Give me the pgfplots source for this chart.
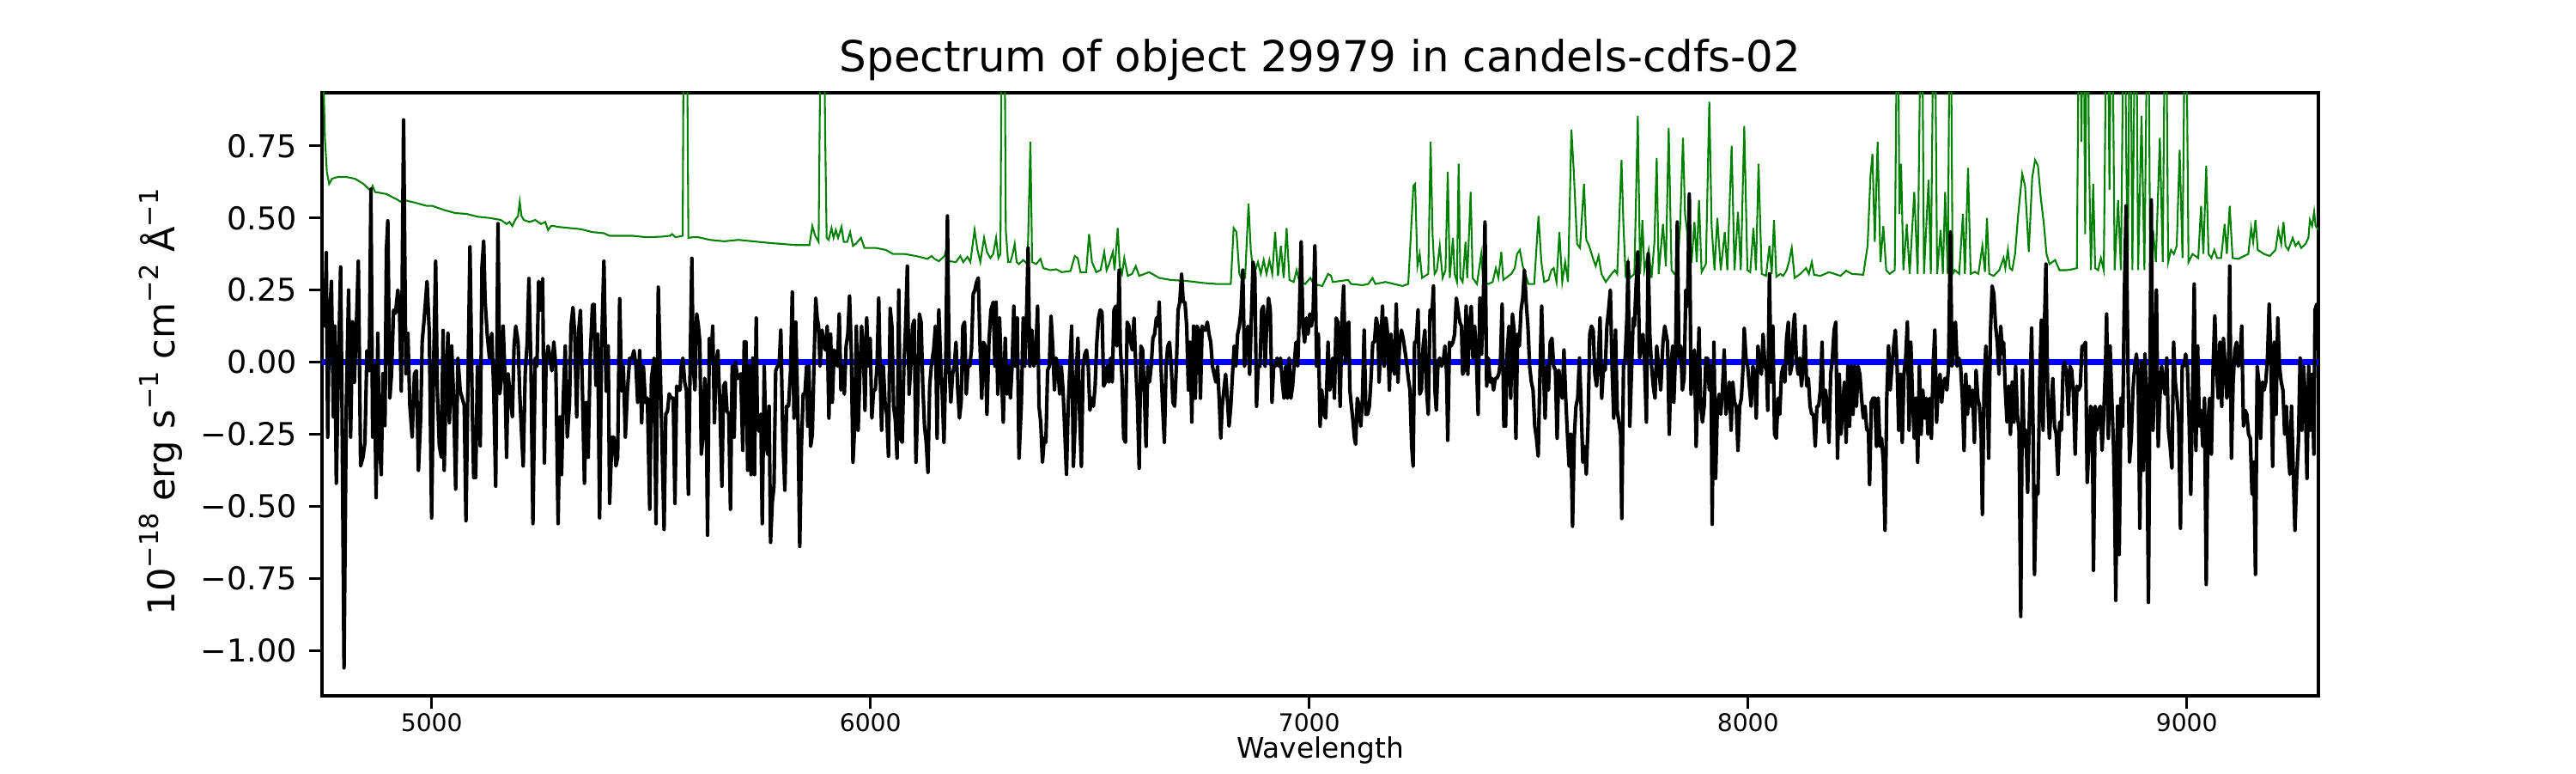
\documentclass[border=0pt]{standalone}
\usepackage{pgfplots}
\pgfplotsset{compat=1.18}
\usepackage{pgfplotstable}
\usepackage{fontspec}
\setmainfont{DejaVu Sans}
\definecolor{mplgreen}{rgb}{0,0.5,0}
\newcommand{\sy}[1]{\raisebox{0.42em}{\fontsize{7.3}{8}\selectfont #1}}

\pgfplotstableread[row sep=\\]{
lam flux\\
4750.0 0.29\\ 4756.5 0.125\\ 4759.8 0.38\\ 4763.0 -0.26\\ 4766.3 0.125\\ 4771.5 0.28\\ 4776.1 -0.19\\ 4779.3 0.125\\
4782.6 -0.42\\ 4787.2 -0.04\\ 4792.4 0.33\\ 4795.6 -0.15\\ 4800.2 -1.06\\ 4805.4 -0.15\\ 4810.6 0.25\\ 4815.2 -0.26\\
4819.8 0.14\\ 4823.7 -0.07\\ 4828.3 0.125\\ 4832.8 0.35\\ 4838.0 -0.36\\ 4843.3 -0.33\\ 4847.8 -0.28\\ 4852.4 0.04\\
4857.6 -0.03\\ 4861.5 0.60\\ 4865.4 -0.26\\ 4869.4 -0.01\\ 4873.3 -0.47\\ 4877.2 0.10\\ 4880.4 -0.26\\ 4885.0 -0.39\\
4888.9 -0.04\\ 4893.5 -0.22\\ 4896.8 0.39\\ 4900.0 0.49\\ 4904.6 -0.125\\ 4908.5 -0.04\\ 4913.1 0.18\\ 4917.6 0.17\\
4922.8 0.25\\ 4926.8 0.17\\ 4930.7 -0.10\\ 4935.9 0.84\\ 4941.1 -0.04\\ 4945.7 0.10\\ 4950.2 -0.15\\ 4955.5 -0.26\\
4960.7 -0.04\\ 4965.2 -0.03\\ 4969.8 -0.375\\ 4975.0 -0.19\\ 4978.3 0.07\\ 4982.9 0.15\\ 4989.4 0.28\\ 4994.6 0.10\\
4999.8 -0.54\\ 5004.4 -0.01\\ 5009.0 0.35\\ 5012.9 -0.10\\ 5017.4 -0.29\\ 5022.0 -0.33\\ 5025.9 0.11\\ 5028.5 -0.375\\
5032.4 -0.10\\ 5037.0 0.10\\ 5040.3 -0.21\\ 5045.5 0.056\\ 5050.0 -0.125\\ 5054.6 -0.44\\ 5059.8 0.014\\ 5065.0 -0.10\\
5069.6 -0.125\\ 5074.2 -0.15\\ 5078.1 -0.55\\ 5082.7 -0.07\\ 5087.2 0.40\\ 5092.4 -0.15\\ 5095.7 -0.40\\ 5100.3 -0.40\\
5104.2 -0.014\\ 5106.8 -0.03\\ 5110.7 -0.29\\ 5114.6 0.33\\ 5118.5 0.42\\ 5121.8 0.21\\ 5126.4 0.10\\ 5131.6 0.014\\
5136.8 0.10\\ 5141.4 -0.10\\ 5145.9 -0.43\\ 5151.1 0.48\\ 5155.1 -0.11\\ 5159.0 -0.056\\ 5162.9 0.125\\ 5167.4 -0.07\\
5170.7 -0.33\\ 5174.0 -0.04\\ 5178.5 -0.11\\ 5183.8 -0.19\\ 5187.7 0.056\\ 5191.6 0.125\\ 5196.8 0.07\\ 5200.7 -0.11\\
5204.6 -0.24\\ 5208.6 -0.36\\ 5213.1 -0.04\\ 5217.7 0.07\\ 5221.6 0.29\\ 5226.2 -0.014\\ 5230.7 -0.56\\ 5236.0 0.014\\
5239.9 -0.014\\ 5243.8 0.28\\ 5247.7 0.18\\ 5252.9 0.29\\ 5256.8 -0.35\\ 5260.7 0.0\\ 5265.3 0.056\\ 5269.9 0.014\\
5273.8 -0.03\\ 5278.3 0.07\\ 5282.9 -0.014\\ 5288.1 -0.56\\ 5292.0 -0.19\\ 5296.0 -0.39\\ 5299.9 -0.125\\ 5304.4 0.056\\
5309.0 -0.26\\ 5314.2 -0.14\\ 5317.5 0.125\\ 5322.0 0.19\\ 5326.0 0.097\\ 5330.5 -0.19\\ 5335.1 0.11\\ 5339.0 0.18\\
5343.6 -0.10\\ 5348.1 -0.42\\ 5352.0 -0.14\\ 5356.6 -0.33\\ 5361.2 0.014\\ 5366.4 0.20\\ 5370.3 0.20\\ 5374.2 -0.08\\
5378.2 0.097\\ 5382.7 -0.54\\ 5387.3 0.056\\ 5392.5 0.35\\ 5397.7 -0.10\\ 5402.3 0.056\\ 5405.5 -0.49\\ 5410.8 -0.26\\
5415.3 -0.26\\ 5419.9 -0.36\\ 5423.8 -0.33\\ 5428.4 0.22\\ 5432.9 -0.10\\ 5436.8 -0.014\\ 5441.4 -0.26\\ 5446.0 -0.10\\
5451.2 0.014\\ 5456.4 0.014\\ 5461.0 0.04\\ 5465.5 -0.014\\ 5469.5 -0.14\\ 5474.0 0.04\\ 5478.6 -0.21\\ 5482.5 -0.014\\
5487.1 -0.14\\ 5491.6 -0.125\\ 5496.9 -0.51\\ 5500.8 -0.056\\ 5506.7 0.014\\ 5511.2 -0.56\\ 5516.4 0.26\\ 5521.7 -0.07\\
5529.6 -0.58\\ 5533.5 -0.18\\ 5537.4 -0.17\\ 5541.3 -0.11\\ 5545.9 -0.125\\ 5550.5 -0.125\\ 5554.4 -0.49\\ 5558.3 -0.083\\
5562.2 -0.097\\ 5566.1 -0.097\\ 5568.7 -0.014\\ 5572.6 0.014\\ 5576.6 -0.07\\ 5580.5 -0.097\\ 5585.0 -0.458\\ 5589.0 -0.014\\
5592.9 0.36\\ 5596.1 -0.014\\ 5600.0 -0.097\\ 5604.0 0.167\\ 5607.9 0.125\\ 5611.1 0.07\\ 5614.4 -0.32\\ 5618.3 -0.26\\
5622.2 -0.056\\ 5625.5 -0.125\\ 5628.7 -0.60\\ 5632.7 0.083\\ 5636.6 0.014\\ 5640.5 0.125\\ 5644.4 -0.21\\ 5648.3 0.0\\
5652.2 0.04\\ 5656.8 -0.15\\ 5661.4 -0.43\\ 5665.3 -0.083\\ 5669.2 -0.07\\ 5673.1 -0.17\\ 5677.0 -0.18\\ 5680.9 -0.51\\
5684.8 -0.014\\ 5689.4 -0.26\\ 5692.7 0.0\\ 5696.6 -0.056\\ 5700.5 -0.056\\ 5704.4 -0.04\\ 5709.0 -0.306\\ 5712.2 0.07\\
5716.2 0.07\\ 5720.1 -0.375\\ 5724.0 -0.014\\ 5727.9 -0.39\\ 5731.8 0.014\\ 5735.7 -0.39\\ 5739.6 0.153\\ 5742.2 -0.21\\
5746.2 -0.24\\ 5750.1 -0.18\\ 5753.3 -0.56\\ 5757.9 -0.014\\ 5761.8 -0.28\\ 5765.7 -0.32\\ 5769.0 -0.153\\ 5772.3 -0.625\\
5776.2 -0.486\\ 5780.1 -0.43\\ 5784.0 -0.03\\ 5787.9 -0.014\\ 5791.8 -0.014\\ 5795.7 0.111\\ 5800.3 -0.264\\ 5804.9 -0.444\\
5808.8 -0.153\\ 5813.3 -0.153\\ 5817.9 -0.028\\ 5821.8 0.243\\ 5825.7 -0.194\\ 5829.7 0.139\\ 5834.9 -0.208\\ 5838.8 -0.639\\
5842.7 -0.292\\ 5846.6 -0.111\\ 5850.5 -0.111\\ 5854.4 -0.014\\ 5857.0 -0.222\\ 5859.7 -0.014\\ 5863.6 -0.292\\ 5867.5 -0.25\\
5871.4 0.0\\ 5875.3 0.222\\ 5878.6 0.153\\ 5881.8 0.125\\ 5885.1 -0.014\\ 5889.7 0.111\\ 5893.6 0.056\\ 5897.5 0.042\\
5901.4 0.125\\ 5905.3 -0.194\\ 5909.2 0.097\\ 5913.1 -0.139\\ 5917.1 0.042\\ 5921.0 0.014\\ 5924.9 -0.014\\ 5928.8 0.167\\
5932.7 -0.097\\ 5936.6 -0.014\\ 5940.5 -0.111\\ 5944.5 0.056\\ 5948.4 0.097\\ 5952.3 0.229\\ 5956.2 0.042\\ 5960.1 -0.347\\
5964.0 -0.222\\ 5967.9 0.125\\ 5971.9 -0.236\\ 5975.8 -0.042\\ 5979.7 0.125\\ 5983.6 0.056\\ 5987.5 -0.167\\ 5991.4 0.153\\
5995.3 -0.014\\ 5999.3 0.083\\ 6003.2 -0.194\\ 6007.1 -0.097\\ 6011.0 -0.097\\ 6014.9 -0.014\\ 6018.8 0.222\\ 6022.1 -0.042\\
6025.3 -0.236\\ 6029.3 -0.014\\ 6033.2 -0.139\\ 6037.1 -0.181\\ 6041.0 -0.326\\ 6044.9 0.1875\\ 6048.8 0.125\\ 6052.7 -0.153\\
6056.7 -0.201\\ 6060.6 -0.333\\ 6064.5 0.25\\ 6068.4 -0.264\\ 6072.3 -0.278\\ 6076.2 -0.014\\ 6080.1 0.125\\ 6084.0 0.333\\
6088.0 -0.111\\ 6091.9 -0.014\\ 6095.8 0.125\\ 6099.7 0.146\\ 6103.6 -0.347\\ 6107.5 -0.153\\ 6111.4 0.167\\ 6115.4 0.139\\
6119.3 -0.083\\ 6123.2 -0.222\\ 6127.1 -0.278\\ 6131.0 -0.382\\ 6134.9 -0.083\\ 6139.5 0.0\\ 6144.0 0.042\\ 6148.0 0.125\\
6151.9 -0.264\\ 6155.8 0.181\\ 6159.7 0.014\\ 6163.6 -0.111\\ 6167.5 -0.278\\ 6171.5 -0.014\\ 6175.4 0.507\\ 6179.3 -0.014\\
6183.2 -0.139\\ 6187.1 -0.042\\ 6191.0 -0.014\\ 6194.9 0.069\\ 6198.9 -0.097\\ 6202.8 -0.194\\ 6206.7 -0.139\\ 6210.6 0.125\\
6214.5 0.139\\ 6218.4 -0.111\\ 6222.3 -0.014\\ 6226.3 -0.014\\ 6230.2 0.042\\ 6234.1 0.236\\ 6238.0 0.25\\ 6241.9 0.278\\
6245.8 0.292\\ 6249.7 0.056\\ 6253.6 -0.125\\ 6257.6 0.069\\ 6261.5 0.056\\ 6265.4 -0.181\\ 6270.0 0.069\\ 6274.5 0.181\\
6279.7 0.208\\ 6283.6 -0.014\\ 6286.3 0.208\\ 6290.2 -0.111\\ 6294.1 0.153\\ 6298.0 -0.014\\ 6302.6 -0.208\\ 6307.1 0.083\\
6311.1 -0.111\\ 6315.6 -0.014\\ 6318.9 -0.125\\ 6322.8 -0.014\\ 6326.7 0.194\\ 6330.6 -0.014\\ 6334.5 0.153\\ 6338.5 -0.333\\
6343.7 -0.153\\ 6348.2 0.153\\ 6351.5 -0.014\\ 6355.4 0.139\\ 6359.3 0.396\\ 6363.2 -0.014\\ 6367.8 0.111\\ 6372.4 -0.014\\
6376.3 0.014\\ 6380.9 0.194\\ 6384.1 -0.153\\ 6388.0 -0.208\\ 6392.0 -0.347\\ 6395.9 -0.264\\ 6399.8 -0.278\\ 6403.7 -0.028\\
6407.6 -0.014\\ 6411.5 0.160\\ 6415.4 0.056\\ 6419.3 -0.097\\ 6423.3 0.014\\ 6427.2 -0.014\\ 6431.1 -0.111\\ 6435.0 -0.014\\
6438.9 -0.097\\ 6442.8 -0.236\\ 6446.7 -0.389\\ 6450.6 -0.153\\ 6454.6 -0.014\\ 6458.5 0.125\\ 6462.4 -0.361\\ 6466.3 -0.222\\
6468.9 -0.042\\ 6472.8 0.083\\ 6476.7 -0.181\\ 6480.7 -0.361\\ 6484.6 -0.014\\ 6488.5 0.028\\ 6492.4 0.042\\ 6496.3 -0.014\\
6500.2 -0.167\\ 6504.1 -0.125\\ 6508.1 -0.153\\ 6512.0 -0.083\\ 6515.9 0.069\\ 6519.8 0.153\\ 6523.7 0.181\\ 6527.6 0.174\\
6531.5 -0.083\\ 6535.5 -0.069\\ 6539.4 -0.014\\ 6543.3 -0.069\\ 6547.2 0.014\\ 6551.1 -0.069\\ 6555.0 0.181\\ 6558.9 0.194\\
6561.5 0.056\\ 6564.1 0.125\\ 6566.8 0.319\\ 6569.4 0.056\\ 6573.3 -0.056\\ 6577.2 -0.264\\ 6581.1 -0.278\\ 6585.0 0.139\\
6588.9 0.125\\ 6592.9 0.069\\ 6596.8 0.042\\ 6600.7 0.153\\ 6604.6 -0.014\\ 6608.5 -0.139\\ 6612.4 -0.368\\ 6616.3 0.056\\
6620.3 0.042\\ 6624.2 -0.111\\ 6628.1 -0.292\\ 6632.0 -0.014\\ 6635.9 -0.069\\ 6639.8 -0.014\\ 6643.7 0.083\\ 6647.6 0.097\\
6651.6 0.153\\ 6655.5 0.125\\ 6658.1 0.208\\ 6662.0 -0.014\\ 6665.9 -0.153\\ 6669.8 -0.278\\ 6673.7 -0.014\\ 6677.6 0.056\\
6681.6 0.069\\ 6685.5 -0.014\\ 6689.4 -0.139\\ 6693.3 -0.153\\ 6697.2 -0.014\\ 6701.1 0.181\\ 6705.0 0.208\\ 6709.0 0.306\\
6712.9 0.208\\ 6716.8 0.208\\ 6720.7 0.125\\ 6724.6 -0.097\\ 6728.5 0.069\\ 6732.4 -0.208\\ 6736.4 0.125\\ 6740.3 -0.125\\
6744.2 0.125\\ 6748.1 0.111\\ 6752.0 -0.125\\ 6755.9 0.125\\ 6759.8 0.111\\ 6763.8 0.111\\ 6767.7 0.139\\ 6771.6 0.097\\
6775.5 0.069\\ 6779.4 -0.014\\ 6783.3 -0.042\\ 6787.2 -0.069\\ 6791.1 -0.014\\ 6795.1 -0.139\\ 6798.3 -0.264\\ 6801.6 -0.153\\
6805.5 -0.097\\ 6809.4 -0.042\\ 6813.3 -0.125\\ 6817.2 -0.222\\ 6821.2 -0.153\\ 6825.1 -0.042\\ 6829.0 0.056\\ 6832.9 -0.014\\
6836.8 0.097\\ 6840.7 0.125\\ 6844.6 0.181\\ 6848.6 0.319\\ 6852.5 -0.014\\ 6856.4 0.069\\ 6860.3 0.125\\ 6864.2 -0.042\\
6868.1 0.153\\ 6872.0 0.347\\ 6876.0 0.306\\ 6879.9 -0.153\\ 6883.8 -0.014\\ 6887.7 -0.014\\ 6891.6 0.181\\ 6895.5 0.194\\
6899.4 -0.014\\ 6903.4 0.139\\ 6907.3 0.222\\ 6911.2 0.181\\ 6915.1 -0.139\\ 6919.0 -0.014\\ 6922.9 -0.014\\ 6926.8 0.014\\
6930.7 -0.014\\ 6934.7 0.014\\ 6938.6 -0.069\\ 6942.5 -0.125\\ 6946.4 -0.014\\ 6950.3 -0.125\\ 6954.2 0.014\\ 6958.1 -0.125\\
6962.1 -0.083\\ 6966.0 0.0\\ 6969.9 0.069\\ 6973.8 -0.014\\ 6977.7 0.181\\ 6981.6 0.417\\ 6985.5 0.125\\ 6989.5 0.069\\
6993.4 0.153\\ 6997.3 0.097\\ 7001.2 0.167\\ 7005.1 0.125\\ 7009.0 0.181\\ 7012.9 0.403\\ 7016.8 -0.014\\ 7020.8 0.097\\
7024.7 -0.222\\ 7028.6 -0.097\\ 7033.1 -0.181\\ 7037.7 -0.194\\ 7042.9 0.069\\ 7046.8 -0.097\\ 7053.5 0.014\\ 7057.4 -0.125\\
7061.3 0.153\\ 7065.2 0.139\\ 7067.8 -0.014\\ 7070.4 -0.153\\ 7074.4 0.139\\ 7078.3 0.264\\ 7082.2 0.0\\ 7086.1 0.125\\
7090.0 0.139\\ 7092.6 -0.097\\ 7095.2 -0.139\\ 7099.1 -0.194\\ 7103.1 -0.264\\ 7105.7 -0.285\\ 7109.6 -0.125\\ 7113.5 -0.153\\
7117.4 -0.222\\ 7121.3 -0.125\\ 7125.2 0.111\\ 7129.2 -0.181\\ 7133.1 -0.181\\ 7137.0 -0.153\\ 7140.9 -0.056\\ 7144.8 0.069\\
7148.7 0.069\\ 7152.6 0.153\\ 7156.5 0.125\\ 7159.2 -0.069\\ 7163.1 0.069\\ 7167.0 0.194\\ 7170.9 -0.014\\ 7174.8 0.153\\
7178.7 0.097\\ 7182.6 -0.097\\ 7186.6 0.097\\ 7190.5 -0.014\\ 7194.4 -0.042\\ 7198.3 0.201\\ 7202.2 -0.069\\ 7206.1 0.069\\
7210.0 0.111\\ 7214.0 0.083\\ 7217.9 0.042\\ 7221.8 0.0\\ 7225.7 -0.056\\ 7229.6 -0.097\\ 7233.5 -0.292\\ 7236.8 -0.361\\
7240.0 0.069\\ 7243.9 0.069\\ 7247.9 0.181\\ 7251.8 -0.111\\ 7255.7 -0.097\\ 7259.6 0.056\\ 7263.5 0.111\\ 7267.4 -0.097\\
7271.3 -0.181\\ 7275.3 0.181\\ 7279.2 0.153\\ 7283.1 0.264\\ 7286.4 -0.097\\ 7289.6 -0.167\\ 7293.5 0.0\\ 7297.4 0.014\\
7301.4 -0.014\\ 7305.3 0.0\\ 7309.2 0.056\\ 7313.1 -0.042\\ 7315.7 -0.271\\ 7319.6 0.069\\ 7323.5 0.056\\ 7327.5 0.069\\
7331.4 0.097\\ 7335.3 0.222\\ 7339.2 0.181\\ 7343.1 0.139\\ 7347.0 0.125\\ 7349.6 -0.042\\ 7353.5 -0.028\\ 7357.5 0.194\\
7361.4 -0.042\\ 7365.3 0.125\\ 7369.2 0.194\\ 7373.1 0.014\\ 7377.0 0.125\\ 7380.9 0.014\\ 7384.9 -0.181\\ 7388.8 0.222\\
7392.7 0.028\\ 7396.6 0.208\\ 7400.5 0.486\\ 7404.4 -0.083\\ 7408.3 0.014\\ 7412.2 -0.069\\ 7416.2 -0.056\\ 7420.1 -0.097\\
7424.0 -0.056\\ 7427.9 -0.056\\ 7431.8 -0.042\\ 7435.7 0.0\\ 7439.6 0.201\\ 7443.6 -0.222\\ 7447.5 -0.222\\ 7451.4 0.042\\
7455.3 0.125\\ 7459.2 -0.125\\ 7463.1 0.167\\ 7467.0 0.111\\ 7471.0 -0.264\\ 7474.9 0.097\\ 7478.8 0.056\\ 7482.7 0.181\\
7486.6 0.222\\ 7490.5 0.319\\ 7494.4 0.208\\ 7498.4 0.125\\ 7502.3 -0.014\\ 7506.2 -0.069\\ 7510.1 -0.097\\ 7514.0 -0.222\\
7517.9 -0.264\\ 7521.8 -0.326\\ 7525.8 -0.042\\ 7529.7 0.194\\ 7533.6 -0.014\\ 7537.5 -0.194\\ 7541.4 -0.014\\ 7545.3 -0.097\\
7549.2 0.069\\ 7553.1 0.083\\ 7557.1 -0.014\\ 7561.0 -0.028\\ 7564.9 -0.264\\ 7568.8 -0.028\\ 7572.7 -0.083\\ 7576.6 -0.125\\
7580.5 0.042\\ 7584.5 -0.125\\ 7588.4 -0.250\\ 7592.3 -0.361\\ 7596.2 -0.250\\ 7600.1 -0.569\\ 7604.0 -0.264\\ 7607.9 -0.153\\
7611.9 -0.125\\ 7615.8 0.014\\ 7619.7 -0.153\\ 7623.6 -0.347\\ 7627.5 -0.292\\ 7631.4 -0.389\\ 7635.3 -0.222\\ 7639.3 0.097\\
7643.2 0.125\\ 7647.1 0.111\\ 7651.0 -0.042\\ 7654.9 -0.083\\ 7658.8 0.0\\ 7662.7 0.153\\ 7666.6 -0.125\\ 7670.6 -0.014\\
7674.5 -0.028\\ 7678.4 0.125\\ 7682.3 0.181\\ 7686.2 0.25\\ 7690.1 -0.014\\ 7694.0 -0.194\\ 7698.0 0.111\\ 7701.9 -0.167\\
7705.8 -0.208\\ 7709.7 -0.25\\ 7712.3 -0.542\\ 7716.2 -0.014\\ 7720.1 0.014\\ 7724.0 0.153\\ 7726.7 0.347\\ 7730.6 -0.222\\
7734.5 -0.028\\ 7738.4 0.153\\ 7741.0 0.125\\ 7744.9 0.264\\ 7748.8 0.382\\ 7752.8 0.014\\ 7756.7 0.056\\ 7760.6 0.097\\
7764.5 -0.014\\ 7768.4 -0.208\\ 7772.3 0.375\\ 7776.2 0.097\\ 7780.1 -0.014\\ 7784.1 -0.083\\ 7788.0 -0.125\\ 7791.9 0.056\\
7796.5 -0.014\\ 7801.0 -0.097\\ 7806.2 0.069\\ 7810.2 0.125\\ 7816.6 0.069\\ 7820.5 -0.25\\ 7824.4 -0.014\\ 7828.3 0.056\\
7830.9 -0.139\\ 7835.0 0.042\\ 7838.8 0.486\\ 7842.7 0.014\\ 7846.6 0.056\\ 7850.5 -0.097\\ 7854.4 -0.056\\ 7858.3 0.25\\
7862.2 0.194\\ 7866.2 0.583\\ 7870.1 -0.111\\ 7874.0 -0.014\\ 7877.9 0.042\\ 7881.8 -0.292\\ 7884.4 -0.153\\ 7888.3 0.118\\
7892.2 -0.153\\ 7896.2 -0.208\\ 7900.1 -0.153\\ 7904.0 0.014\\ 7907.9 0.014\\ 7911.8 -0.097\\ 7915.7 -0.014\\ 7918.3 -0.5625\\
7922.3 0.069\\ 7926.2 -0.403\\ 7930.1 -0.153\\ 7934.0 -0.111\\ 7937.9 -0.181\\ 7941.8 -0.097\\ 7945.7 0.042\\ 7949.7 -0.181\\
7953.6 -0.125\\ 7957.5 -0.069\\ 7961.4 -0.236\\ 7965.3 -0.069\\ 7969.2 -0.139\\ 7973.1 -0.153\\ 7977.1 -0.306\\ 7981.0 -0.153\\
7984.9 -0.125\\ 7988.8 -0.014\\ 7991.4 0.118\\ 7995.3 0.014\\ 7999.2 -0.014\\ 8003.1 -0.083\\ 8007.0 -0.153\\ 8011.0 -0.014\\
8014.9 -0.042\\ 8018.8 -0.194\\ 8022.7 0.056\\ 8026.6 -0.014\\ 8030.5 -0.042\\ 8034.4 0.097\\ 8038.4 -0.014\\ 8042.3 -0.028\\
8044.9 -0.167\\ 8048.8 0.306\\ 8052.7 -0.069\\ 8056.6 0.125\\ 8060.5 -0.25\\ 8064.5 -0.264\\ 8068.4 -0.125\\ 8072.3 -0.181\\
8076.2 -0.042\\ 8080.1 -0.014\\ 8084.0 -0.069\\ 8087.9 0.083\\ 8091.9 0.139\\ 8095.8 -0.042\\ 8099.7 -0.014\\ 8103.6 0.125\\
8106.2 0.167\\ 8110.1 0.014\\ 8114.0 -0.042\\ 8117.9 0.014\\ 8121.9 -0.083\\ 8125.8 -0.014\\ 8129.7 0.125\\ 8133.6 -0.083\\
8137.5 -0.056\\ 8141.4 -0.153\\ 8145.3 -0.181\\ 8149.3 -0.181\\ 8153.2 -0.292\\ 8157.1 -0.153\\ 8161.0 -0.153\\ 8164.9 -0.097\\
8168.8 0.069\\ 8172.7 -0.208\\ 8176.6 -0.097\\ 8180.6 -0.153\\ 8184.5 -0.278\\ 8188.4 -0.042\\ 8192.3 0.014\\ 8196.2 0.111\\
8200.1 0.139\\ 8204.0 -0.333\\ 8208.0 -0.042\\ 8211.9 -0.25\\ 8215.8 -0.153\\ 8219.7 -0.069\\ 8223.6 -0.278\\ 8227.5 -0.014\\
8231.4 -0.222\\ 8235.4 -0.014\\ 8239.3 -0.181\\ 8243.2 -0.014\\ 8247.1 -0.153\\ 8251.0 -0.014\\ 8254.9 -0.042\\ 8258.8 -0.125\\
8262.8 -0.194\\ 8266.7 -0.153\\ 8270.6 -0.236\\ 8274.5 -0.236\\ 8277.1 -0.424\\ 8281.0 -0.139\\ 8284.9 -0.125\\ 8288.9 -0.125\\
8292.8 -0.292\\ 8296.7 -0.125\\ 8300.6 -0.292\\ 8304.5 -0.264\\ 8308.4 -0.347\\ 8312.3 -0.583\\ 8316.2 -0.125\\ 8320.2 0.056\\
8324.1 -0.097\\ 8328.0 -0.014\\ 8331.9 0.056\\ 8335.8 0.111\\ 8339.7 -0.014\\ 8343.6 -0.236\\ 8347.6 -0.042\\ 8351.5 -0.278\\
8355.4 -0.042\\ 8359.3 0.014\\ 8363.2 0.139\\ 8367.1 -0.236\\ 8371.0 0.069\\ 8375.0 -0.125\\ 8378.9 -0.264\\ 8382.8 -0.125\\
8386.7 -0.347\\ 8390.6 -0.014\\ 8394.5 -0.25\\ 8398.4 -0.097\\ 8402.4 -0.194\\ 8406.3 -0.125\\ 8410.2 -0.25\\ 8414.1 -0.125\\
8418.0 -0.264\\ 8421.9 -0.014\\ 8425.8 0.111\\ 8429.8 -0.208\\ 8433.7 -0.083\\ 8437.6 -0.042\\ 8441.5 -0.139\\ 8445.4 -0.069\\
8449.3 -0.056\\ 8453.2 -0.097\\ 8457.1 -0.014\\ 8461.1 0.451\\ 8465.0 -0.014\\ 8468.9 0.056\\ 8472.8 0.139\\ 8476.7 -0.014\\
8480.6 0.014\\ 8484.5 -0.014\\ 8488.5 -0.125\\ 8492.4 -0.306\\ 8496.3 -0.042\\ 8500.2 -0.181\\ 8504.1 -0.083\\ 8508.0 -0.153\\
8511.9 -0.097\\ 8515.9 -0.278\\ 8519.8 -0.028\\ 8523.7 -0.125\\ 8527.6 -0.153\\ 8531.5 -0.264\\ 8534.1 -0.528\\ 8538.0 -0.083\\
8542.0 0.056\\ 8544.6 -0.042\\ 8548.5 -0.333\\ 8552.4 0.097\\ 8556.3 0.264\\ 8560.3 0.236\\ 8564.2 0.125\\ 8568.1 0.069\\
8572.0 -0.042\\ 8576.0 0.125\\ 8579.9 0.028\\ 8582.5 0.069\\ 8586.4 -0.097\\ 8590.3 -0.208\\ 8594.2 -0.083\\ 8598.1 -0.25\\
8602.1 -0.069\\ 8606.0 -0.208\\ 8609.9 -0.014\\ 8613.8 -0.181\\ 8617.7 -0.236\\ 8621.6 -0.882\\ 8625.5 -0.028\\ 8629.5 -0.292\\
8633.4 -0.236\\ 8637.3 -0.451\\ 8641.2 -0.194\\ 8646.4 0.118\\ 8650.3 -0.292\\ 8652.9 -0.736\\ 8656.9 -0.431\\ 8660.8 -0.458\\
8664.7 -0.069\\ 8668.6 0.146\\ 8672.5 -0.236\\ 8675.1 0.097\\ 8679.0 0.340\\ 8683.0 -0.111\\ 8686.9 -0.264\\ 8690.8 -0.153\\
8694.7 -0.056\\ 8698.6 -0.222\\ 8702.5 -0.25\\ 8706.4 -0.389\\ 8710.3 -0.208\\ 8714.3 -0.236\\ 8718.2 -0.014\\ 8722.1 0.0\\
8726.0 -0.042\\ 8729.9 -0.181\\ 8733.8 -0.014\\ 8737.7 -0.028\\ 8741.7 -0.111\\ 8745.6 -0.319\\ 8749.5 -0.083\\ 8753.4 -0.097\\
8757.3 -0.083\\ 8761.2 0.056\\ 8765.1 0.056\\ 8769.1 0.069\\ 8773.0 -0.417\\ 8776.9 -0.292\\ 8780.8 -0.153\\ 8784.7 -0.167\\
8787.3 -0.722\\ 8791.2 -0.153\\ 8795.1 -0.236\\ 8799.1 -0.167\\ 8803.0 -0.153\\ 8806.9 -0.306\\ 8810.8 -0.181\\ 8814.7 -0.014\\
8817.3 0.167\\ 8821.2 -0.264\\ 8825.2 0.056\\ 8829.1 -0.125\\ 8833.0 -0.292\\ 8835.6 -0.493\\ 8838.2 -0.826\\ 8842.1 -0.153\\
8846.0 -0.667\\ 8850.0 -0.125\\ 8853.9 -0.222\\ 8857.8 0.236\\ 8861.7 0.542\\ 8865.6 0.014\\ 8869.5 -0.347\\ 8873.4 -0.264\\
8877.3 -0.097\\ 8881.3 -0.014\\ 8885.2 0.028\\ 8889.1 -0.042\\ 8893.0 -0.576\\ 8896.9 0.0\\ 8900.8 -0.375\\ 8904.7 0.028\\
8908.6 -0.153\\ 8912.6 -0.833\\ 8916.5 0.056\\ 8919.1 0.5625\\ 8923.0 -0.236\\ 8926.9 -0.042\\ 8930.8 0.25\\ 8934.8 -0.292\\
8938.7 -0.125\\ 8942.6 -0.014\\ 8946.5 -0.069\\ 8950.4 -0.111\\ 8954.3 0.014\\ 8958.2 -0.236\\ 8962.1 -0.292\\ 8966.1 -0.368\\
8970.0 0.069\\ 8973.9 -0.069\\ 8977.8 -0.125\\ 8981.7 -0.208\\ 8985.6 -0.576\\ 8989.5 -0.014\\ 8993.5 -0.014\\ 8997.4 0.028\\
9001.3 -0.014\\ 9005.2 -0.194\\ 9009.1 -0.458\\ 9013.0 -0.125\\ 9016.9 0.271\\ 9020.8 -0.306\\ 9024.8 0.056\\ 9028.7 -0.222\\
9032.6 -0.167\\ 9036.5 -0.292\\ 9040.4 -0.125\\ 9044.3 -0.771\\ 9048.2 -0.208\\ 9052.2 -0.125\\ 9056.1 -0.319\\ 9060.0 -0.014\\
9063.9 0.160\\ 9067.8 -0.028\\ 9071.7 -0.125\\ 9075.6 0.069\\ 9079.6 -0.153\\ 9083.5 0.083\\ 9087.4 -0.014\\ 9091.3 -0.125\\
9095.2 -0.014\\ 9097.8 0.333\\ 9101.7 -0.333\\ 9105.6 -0.069\\ 9109.5 0.042\\ 9113.4 0.069\\ 9117.4 -0.014\\ 9121.3 0.014\\
9125.2 0.125\\ 9129.1 -0.222\\ 9133.0 -0.167\\ 9136.9 -0.181\\ 9140.8 -0.25\\ 9144.8 -0.264\\ 9148.7 -0.458\\ 9152.6 -0.347\\
9156.5 -0.736\\ 9160.4 -0.014\\ 9164.3 -0.069\\ 9168.2 -0.264\\ 9172.2 -0.069\\ 9176.1 -0.097\\ 9180.0 -0.069\\ 9183.9 0.014\\
9187.8 0.201\\ 9191.7 0.014\\ 9195.6 -0.361\\ 9199.5 0.069\\ 9203.5 -0.181\\ 9207.4 0.153\\ 9211.3 -0.014\\ 9215.2 -0.069\\
9219.1 -0.097\\ 9223.0 -0.25\\ 9226.9 -0.153\\ 9230.9 -0.292\\ 9234.8 -0.389\\ 9238.7 -0.153\\ 9242.6 -0.375\\ 9246.5 -0.583\\
9250.4 -0.403\\ 9254.3 -0.278\\ 9258.3 0.014\\ 9262.2 -0.236\\ 9266.1 -0.014\\ 9270.0 -0.125\\ 9273.9 -0.403\\ 9277.8 -0.014\\
9281.7 -0.236\\ 9285.7 -0.042\\ 9289.6 -0.319\\ 9292.2 0.181\\ 9296.1 0.201\\ 9300.0 0.097\\
}\specdata

\pgfplotstableread[row sep=\\]{
lam sky\\
4750.0 1.2\\ 4753.2 1.0\\ 4756.5 0.78\\ 4761.1 0.66\\ 4766.3 0.618\\ 4772.8 0.636\\ 4785.9 0.642\\ 4805.4 0.642\\
4825.0 0.636\\ 4844.6 0.618\\ 4860.9 0.594\\ 4865.4 0.611\\ 4870.7 0.590\\ 4896.8 0.583\\ 4922.8 0.5625\\ 4929.4 0.556\\
4935.9 0.5625\\ 4962.0 0.553\\ 4988.1 0.542\\ 5001.1 0.542\\ 5027.2 0.528\\ 5053.3 0.517\\ 5079.4 0.514\\ 5105.5 0.504\\
5131.6 0.5\\ 5157.7 0.493\\ 5170.7 0.479\\ 5177.2 0.486\\ 5183.8 0.472\\ 5190.3 0.493\\ 5196.8 0.507\\ 5200.7 0.556\\
5204.6 0.507\\ 5209.9 0.493\\ 5222.9 0.486\\ 5236.0 0.493\\ 5242.5 0.486\\ 5249.0 0.479\\ 5258.8 0.486\\ 5265.3 0.458\\
5271.8 0.472\\ 5278.3 0.472\\ 5288.1 0.469\\ 5314.2 0.465\\ 5340.3 0.461\\ 5366.4 0.451\\ 5392.5 0.447\\ 5405.5 0.438\\
5431.6 0.438\\ 5457.7 0.438\\ 5490.3 0.433\\ 5522.9 0.435\\ 5542.6 0.438\\ 5547.9 0.444\\ 5555.7 0.433\\ 5572.0 0.438\\
5575.3 1.5\\ 5580.5 1.5\\ 5585.0 0.431\\ 5594.8 0.433\\ 5607.9 0.433\\ 5633.9 0.424\\ 5666.6 0.419\\ 5699.2 0.424\\
5731.8 0.419\\ 5764.4 0.414\\ 5797.0 0.410\\ 5829.7 0.406\\ 5861.0 0.406\\ 5867.5 0.472\\ 5874.0 0.438\\ 5881.8 0.417\\
5888.4 1.5\\ 5892.3 1.5\\ 5896.8 0.79\\ 5900.1 0.431\\ 5904.7 0.424\\ 5911.2 0.465\\ 5915.8 0.431\\ 5921.0 0.458\\
5926.2 0.431\\ 5934.0 0.469\\ 5939.2 0.417\\ 5947.1 0.417\\ 5953.6 0.451\\ 5960.1 0.403\\ 5966.6 0.410\\ 5978.4 0.431\\
5986.2 0.396\\ 6012.3 0.396\\ 6035.1 0.389\\ 6051.4 0.375\\ 6077.5 0.375\\ 6103.6 0.368\\ 6129.7 0.358\\ 6139.5 0.368\\
6146.0 0.358\\ 6155.8 0.35\\ 6168.8 0.368\\ 6172.1 0.389\\ 6178.6 0.35\\ 6194.9 0.347\\ 6204.7 0.368\\ 6211.3 0.347\\
6221.0 0.365\\ 6227.6 0.347\\ 6237.3 0.458\\ 6243.9 0.389\\ 6250.4 0.347\\ 6258.9 0.431\\ 6265.4 0.382\\ 6273.2 0.361\\
6279.7 0.375\\ 6286.3 0.431\\ 6291.5 0.361\\ 6296.1 0.375\\ 6300.6 1.5\\ 6304.5 1.5\\ 6308.4 0.458\\ 6313.7 0.347\\
6318.9 0.347\\ 6324.1 0.375\\ 6328.7 0.410\\ 6333.2 0.347\\ 6338.5 0.340\\ 6348.2 0.354\\ 6358.0 0.340\\ 6364.5 0.764\\
6368.5 0.347\\ 6377.6 0.340\\ 6387.4 0.358\\ 6393.9 0.326\\ 6410.2 0.319\\ 6423.3 0.322\\ 6436.3 0.312\\ 6455.9 0.316\\
6465.7 0.368\\ 6472.2 0.361\\ 6478.7 0.312\\ 6491.7 0.312\\ 6498.3 0.444\\ 6504.8 0.347\\ 6514.6 0.312\\ 6524.4 0.319\\
6532.8 0.382\\ 6538.1 0.319\\ 6543.9 0.340\\ 6552.4 0.382\\ 6556.3 0.319\\ 6563.5 0.465\\ 6568.1 0.333\\ 6573.3 0.306\\
6578.5 0.361\\ 6586.3 0.299\\ 6596.1 0.306\\ 6604.6 0.333\\ 6612.4 0.299\\ 6635.2 0.312\\ 6658.1 0.292\\ 6684.2 0.285\\
6723.3 0.281\\ 6762.5 0.274\\ 6788.5 0.271\\ 6821.2 0.271\\ 6827.7 0.465\\ 6834.2 0.451\\ 6840.7 0.306\\ 6847.2 0.285\\
6853.8 0.292\\ 6861.6 0.549\\ 6866.8 0.389\\ 6873.3 0.299\\ 6883.1 0.347\\ 6889.6 0.306\\ 6896.2 0.354\\ 6902.7 0.306\\
6909.2 0.354\\ 6915.7 0.306\\ 6922.3 0.451\\ 6928.8 0.299\\ 6935.3 0.403\\ 6941.8 0.292\\ 6948.4 0.465\\ 6954.9 0.285\\
6964.7 0.278\\ 6971.2 0.319\\ 6977.7 0.278\\ 6990.8 0.271\\ 7002.5 0.292\\ 7010.3 0.271\\ 7029.9 0.264\\ 7042.9 0.306\\
7049.5 0.300\\ 7053.5 0.278\\ 7069.1 0.281\\ 7088.7 0.285\\ 7095.2 0.271\\ 7121.3 0.267\\ 7134.4 0.271\\ 7144.2 0.292\\
7150.7 0.271\\ 7173.5 0.278\\ 7193.1 0.271\\ 7212.6 0.264\\ 7225.7 0.271\\ 7237.4 0.611\\ 7241.3 0.618\\ 7246.6 0.333\\
7251.8 0.375\\ 7257.0 0.292\\ 7271.3 0.306\\ 7276.6 0.764\\ 7281.1 0.444\\ 7285.7 0.306\\ 7290.9 0.319\\ 7297.4 0.403\\
7304.0 0.292\\ 7310.5 0.319\\ 7315.7 0.660\\ 7320.3 0.292\\ 7327.5 0.431\\ 7331.4 0.306\\ 7336.6 0.278\\ 7340.5 0.688\\
7344.4 0.292\\ 7349.6 0.278\\ 7356.2 0.417\\ 7360.1 0.292\\ 7367.9 0.590\\ 7372.5 0.292\\ 7382.2 0.271\\ 7392.0 0.375\\
7396.6 0.278\\ 7408.3 0.271\\ 7418.1 0.278\\ 7425.3 0.326\\ 7431.2 0.292\\ 7437.7 0.382\\ 7442.3 0.285\\ 7460.5 0.306\\
7468.3 0.326\\ 7473.6 0.375\\ 7480.1 0.389\\ 7486.6 0.333\\ 7499.7 0.271\\ 7512.7 0.271\\ 7522.5 0.507\\ 7529.0 0.347\\
7535.5 0.278\\ 7545.3 0.285\\ 7551.8 0.319\\ 7557.1 0.326\\ 7563.6 0.278\\ 7570.1 0.451\\ 7576.6 0.278\\ 7583.2 0.347\\
7589.7 0.278\\ 7597.5 0.806\\ 7602.7 0.667\\ 7610.5 0.410\\ 7617.1 0.396\\ 7626.2 0.618\\ 7631.4 0.424\\ 7637.9 0.403\\
7646.4 0.361\\ 7652.9 0.333\\ 7659.5 0.368\\ 7666.0 0.306\\ 7675.8 0.278\\ 7688.8 0.306\\ 7696.7 0.319\\ 7701.9 0.306\\
7711.7 0.701\\ 7716.2 0.472\\ 7721.4 0.292\\ 7726.7 0.347\\ 7731.2 0.292\\ 7741.0 0.306\\ 7748.8 0.854\\ 7754.1 0.306\\
7759.3 0.493\\ 7763.8 0.319\\ 7773.6 0.389\\ 7780.1 0.292\\ 7786.7 0.417\\ 7791.9 0.708\\ 7796.5 0.306\\ 7806.2 0.479\\
7812.8 0.333\\ 7819.2 0.812\\ 7825.7 0.319\\ 7832.2 0.306\\ 7838.8 0.319\\ 7845.3 0.472\\ 7851.8 0.778\\ 7856.4 0.514\\
7860.9 0.458\\ 7864.9 0.347\\ 7871.4 0.347\\ 7877.9 0.486\\ 7883.1 0.347\\ 7888.3 0.562\\ 7894.2 0.312\\ 7904.0 0.340\\
7911.8 0.903\\ 7917.0 0.472\\ 7923.6 0.319\\ 7930.1 0.500\\ 7937.9 0.319\\ 7947.0 0.451\\ 7952.9 0.319\\ 7962.7 0.750\\
7969.2 0.319\\ 7977.1 0.521\\ 7983.6 0.319\\ 7991.4 0.819\\ 7998.6 0.319\\ 8005.1 0.312\\ 8012.3 0.465\\ 8018.1 0.319\\
8024.0 0.688\\ 8031.2 0.306\\ 8041.0 0.299\\ 8048.8 0.403\\ 8054.0 0.306\\ 8059.2 0.493\\ 8064.5 0.296\\ 8073.6 0.306\\
8080.1 0.299\\ 8088.0 0.319\\ 8093.2 0.347\\ 8099.7 0.396\\ 8106.2 0.292\\ 8119.3 0.306\\ 8132.3 0.326\\ 8138.8 0.306\\
8145.4 0.347\\ 8150.6 0.303\\ 8164.9 0.299\\ 8184.5 0.312\\ 8197.5 0.306\\ 8210.6 0.299\\ 8223.6 0.317\\ 8236.7 0.306\\
8262.7 0.303\\ 8272.5 0.403\\ 8279.1 0.646\\ 8283.6 0.722\\ 8288.9 0.417\\ 8295.4 0.764\\ 8301.9 0.347\\ 8308.4 0.472\\
8315.0 0.319\\ 8322.8 0.306\\ 8334.5 0.319\\ 8341.0 1.5\\ 8345.0 0.514\\ 8348.9 0.688\\ 8354.1 0.319\\ 8361.9 0.479\\
8368.4 0.306\\ 8378.9 0.590\\ 8386.7 0.306\\ 8395.8 1.5\\ 8401.0 0.306\\ 8411.5 0.632\\ 8416.7 0.306\\ 8424.5 1.5\\
8431.0 0.306\\ 8438.9 0.458\\ 8444.1 0.306\\ 8449.3 0.590\\ 8455.2 0.306\\ 8461.1 1.5\\ 8466.3 0.306\\ 8471.5 0.319\\
8481.3 0.306\\ 8489.8 0.514\\ 8494.3 0.306\\ 8501.5 0.674\\ 8507.4 0.306\\ 8517.2 0.313\\ 8525.0 0.306\\ 8534.1 0.403\\
8540.0 0.313\\ 8544.6 0.500\\ 8549.8 0.306\\ 8559.6 0.299\\ 8572.6 0.319\\ 8582.5 0.361\\ 8586.4 0.326\\ 8592.3 0.389\\
8596.8 0.326\\ 8602.1 0.319\\ 8608.6 0.375\\ 8615.1 0.5\\ 8624.9 0.653\\ 8631.4 0.611\\ 8639.9 0.382\\ 8647.7 0.639\\
8654.2 0.701\\ 8660.8 0.681\\ 8667.3 0.569\\ 8673.8 0.486\\ 8680.3 0.375\\ 8686.9 0.340\\ 8693.4 0.347\\ 8699.9 0.354\\
8709.7 0.319\\ 8726.0 0.319\\ 8739.0 0.322\\ 8749.5 0.326\\ 8755.4 1.5\\ 8759.9 0.764\\ 8763.8 1.5\\ 8768.4 0.444\\
8773.0 1.5\\ 8776.9 0.75\\ 8781.4 0.319\\ 8786.7 0.618\\ 8791.2 0.326\\ 8797.8 0.319\\ 8804.3 0.361\\ 8810.8 0.319\\
8818.6 1.5\\ 8823.8 0.597\\ 8829.1 1.5\\ 8835.6 0.319\\ 8843.4 0.562\\ 8849.9 0.319\\ 8857.8 1.5\\ 8861.7 0.757\\
8865.6 0.319\\ 8870.8 1.5\\ 8876.0 0.319\\ 8883.9 1.5\\ 8889.1 0.319\\ 8896.9 0.854\\ 8903.4 0.319\\ 8911.9 1.5\\
8916.5 0.319\\ 8923.0 0.458\\ 8929.5 0.347\\ 8938.6 0.778\\ 8945.2 0.347\\ 8951.7 1.5\\ 8957.6 0.347\\ 8964.1 0.389\\
8970.6 0.375\\ 8977.1 0.403\\ 8983.7 0.736\\ 8990.2 0.361\\ 8997.4 1.5\\ 9003.9 0.347\\ 9013.0 0.375\\ 9026.1 0.361\\
9032.6 0.542\\ 9037.8 0.375\\ 9044.3 0.681\\ 9049.5 0.375\\ 9056.1 0.361\\ 9062.6 0.389\\ 9069.1 0.361\\ 9078.2 0.361\\
9086.3 0.479\\ 9091.3 0.375\\ 9097.8 0.542\\ 9104.4 0.361\\ 9117.4 0.358\\ 9130.5 0.368\\ 9140.2 0.375\\ 9146.7 0.465\\
9151.3 0.417\\ 9156.5 0.493\\ 9161.7 0.389\\ 9176.1 0.375\\ 9189.1 0.368\\ 9202.2 0.389\\ 9208.7 0.458\\ 9215.2 0.410\\
9220.4 0.486\\ 9225.0 0.403\\ 9231.5 0.389\\ 9241.3 0.431\\ 9247.8 0.403\\ 9254.4 0.417\\ 9260.9 0.396\\ 9270.7 0.410\\
9277.2 0.431\\ 9280.5 0.493\\ 9285.6 0.472\\ 9290.2 0.521\\ 9293.5 0.472\\ 9300.0 0.458\\
}\skydata

\begin{document}
\begin{tikzpicture}
\useasboundingbox (0,0) rectangle (10in,3in);
\begin{axis}[
  at={(1.25in,0.3in)}, anchor=south west,
  scale only axis, width=7.75in, height=2.34in,
  xmin=4750, xmax=9300, ymin=-1.157, ymax=0.934,
  axis line style={line width=0.8pt},
  tick align=outside, major tick length=3.5pt,
  every tick/.style={black, line width=0.8pt},
  xtick pos=bottom, ytick pos=left,
  xtick={5000,6000,7000,8000,9000},
  xticklabels={5000,6000,7000,8000,9000},
  ytick={-1,-0.75,-0.5,-0.25,0,0.25,0.5,0.75},
  yticklabels={−1.00,−0.75,−0.50,−0.25,0.00,0.25,0.50,0.75},
  xticklabel style={font=\fontsize{6.8}{8}\selectfont, yshift=2pt},
  yticklabel style={font=\fontsize{8.8}{10}\selectfont},
  clip=true,
]
\addplot[blue, line width=1.5pt] coordinates {(4750,0) (9300,0)};
\addplot[mplgreen, line width=0.5pt] table[x=lam, y=sky] {\skydata};
\addplot[black, line width=1.0pt, line join=round] table[x=lam, y=flux] {\specdata};
\end{axis}
\node[anchor=base, font=\fontsize{12}{14}\selectfont] at (5.125in,2.723in) {Spectrum of object 29979 in candels-cdfs-02};
\node[anchor=base, font=\fontsize{7.9}{9}\selectfont] at (5.125in,0.06in) {Wavelength};
\node[rotate=90, anchor=base, font=\fontsize{10.4}{12}\selectfont] at (0.677in,1.44in) {10\sy{−18} erg s\sy{−1} cm\sy{−2} Å\sy{−1}};
\end{tikzpicture}
\end{document}
